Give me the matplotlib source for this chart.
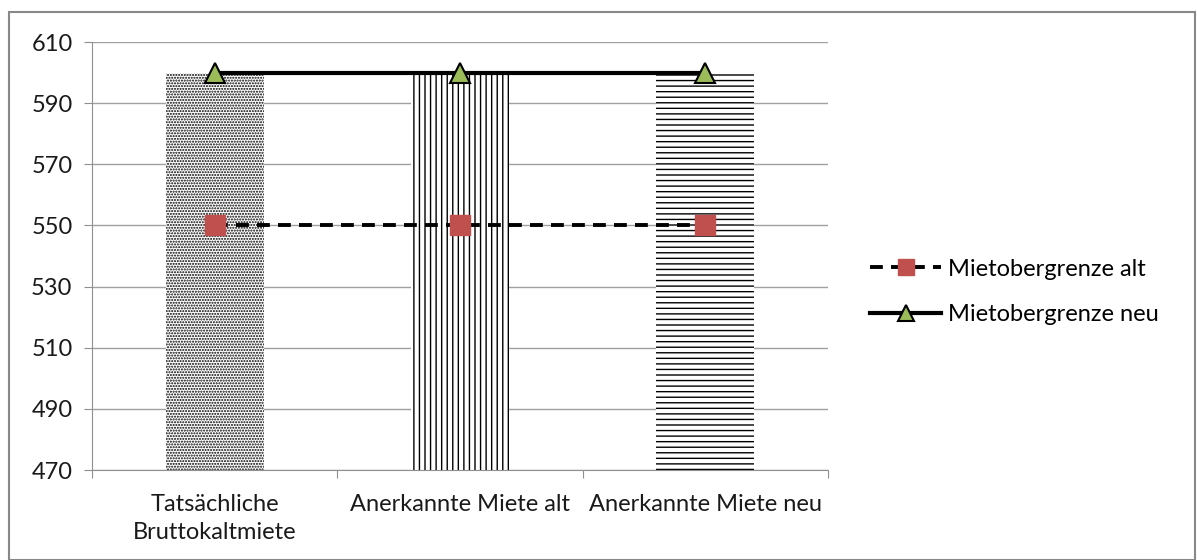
import matplotlib
matplotlib.use("Agg")
import matplotlib.pyplot as plt
from matplotlib.patches import Rectangle

categories = ["Tatsächliche\nBruttokaltmiete", "Anerkannte Miete alt", "Anerkannte Miete neu"]
bar_values = [600, 600, 600]
alt_values = [550, 550, 550]
neu_values = [600, 600, 600]
yticks = [470, 490, 510, 530, 550, 570, 590, 610]
hatches = ["......", "|||", "---"]

plt.rcParams['font.family'] = ['Lato', 'DejaVu Sans']
plt.rcParams['hatch.linewidth'] = 1.0

fig = plt.figure(figsize=(11.97, 5.6), dpi=100)
ax = fig.add_axes([92/1197, 1-470/560, (828-92)/1197, (470-42)/560])

x = list(range(len(categories)))
for xi, v, h in zip(x, bar_values, hatches):
    ax.bar(xi, v - 470, bottom=470, width=0.4, color="white", edgecolor="black",
           linewidth=0, hatch=h, zorder=2)

ax.plot(x, alt_values, linestyle=(0, (3.3, 2.1)), color="black", linewidth=2.8,
        marker="s", markersize=14, markerfacecolor="#C0504D", markeredgecolor="#C0504D",
        label="Mietobergrenze alt", zorder=3)
ax.plot(x, neu_values, linestyle="-", color="black", linewidth=3,
        marker="^", markersize=15, markerfacecolor="#9BBB59", markeredgecolor="black",
        markeredgewidth=1.5, label="Mietobergrenze neu", zorder=3)

ax.set_xlim(-0.5, 2.5)
ax.set_ylim(470, 610)
ax.set_yticks(yticks)
ax.yaxis.grid(True, color="#A0A0A0", linewidth=1)
ax.set_axisbelow(True)
for s in ["top", "right"]:
    ax.spines[s].set_visible(False)
for s in ["left", "bottom"]:
    ax.spines[s].set_color("#909090")
ax.set_xticks([-0.5, 0.5, 1.5, 2.5])
ax.set_xticklabels([])
ax.set_xticks(x, minor=True)
ax.set_xticklabels(categories, minor=True, fontsize=17, color="#1a1a1a", linespacing=1.45)
ax.tick_params(axis="x", which="major", length=6, color="#909090", direction="out")
ax.tick_params(axis="x", which="minor", length=0, pad=17)
ax.tick_params(axis="y", length=6, color="#909090", labelsize=17, labelcolor="#1a1a1a", pad=8)

leg = fig.legend(loc="center left", bbox_to_anchor=(849/1197, 1-292/560), frameon=False,
                 fontsize=17, handlelength=3.0, labelspacing=1.05, handletextpad=0.3,
                 markerscale=0.8)

fig.patches.append(Rectangle((9/1197, 0), (1195-9)/1197, 1-12/560, transform=fig.transFigure,
                             fill=False, edgecolor="#888888", linewidth=1.5))

fig.savefig("out.png", dpi=100)
